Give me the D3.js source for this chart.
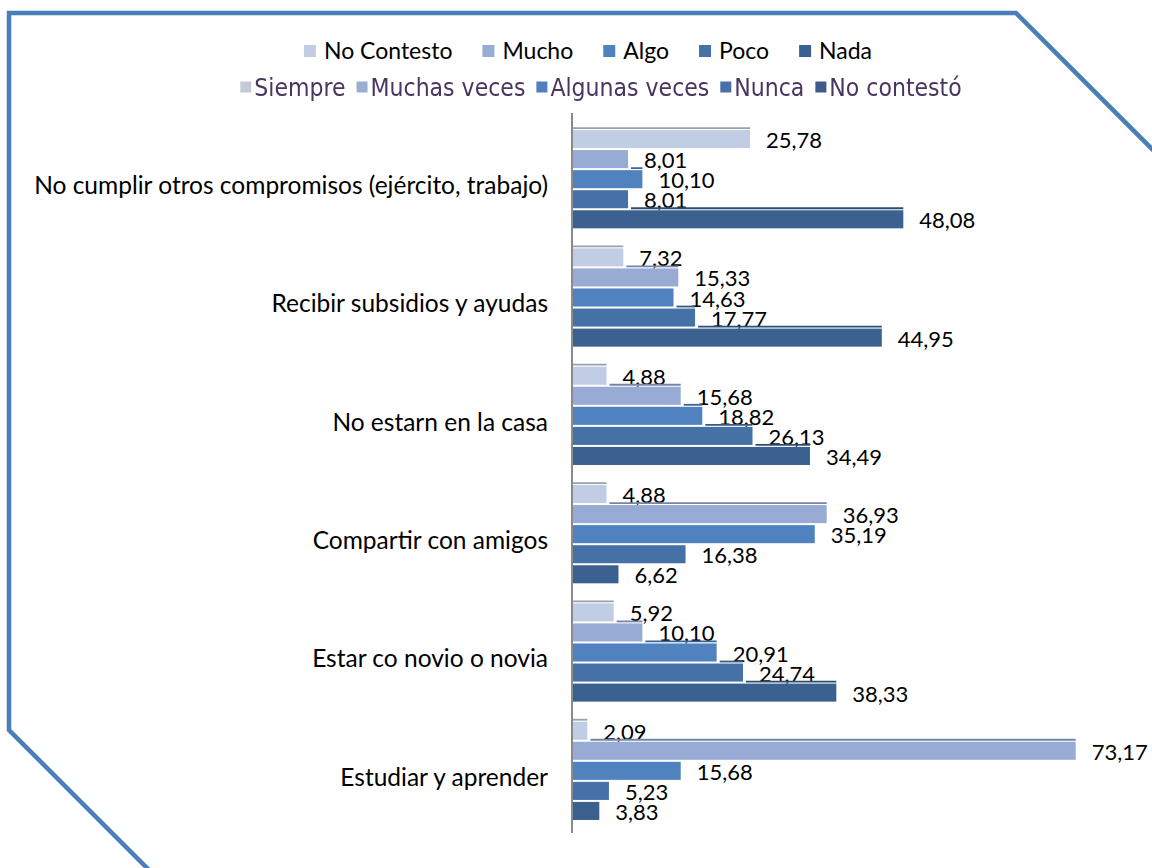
<!DOCTYPE html>
<html>
<head>
<meta charset="utf-8">
<script src="https://d3js.org/d3.v7.min.js"></script>
<style>
  body { margin: 0; background: #ffffff; }
  svg text { font-family: Lato, "Open Sans", sans-serif; fill: #000; }
  .legend2 text { font-family: "Liberation Sans Narrow", "DejaVu Sans Condensed", "Roboto", sans-serif; fill: #4a3560; }
</style>
</head>
<body>
<div class="plot"></div>
<script>
// categories (top to bottom)
let categories = [
  "No cumplir otros compromisos (ejército, trabajo)",
  "Recibir subsidios y ayudas",
  "No estarn en la casa",
  "Compartir con amigos",
  "Estar co novio o novia",
  "Estudiar y aprender"
];

let seriesNames = ["No Contesto", "Mucho", "Algo", "Poco", "Nada"];
let noContesto = [25.78, 7.32, 4.88, 4.88, 5.92, 2.09];
let mucho      = [8.01, 15.33, 15.68, 36.93, 10.10, 73.17];
let algo       = [10.10, 14.63, 18.82, 35.19, 20.91, 15.68];
let poco       = [8.01, 17.77, 26.13, 16.38, 24.74, 5.23];
let nada       = [48.08, 44.95, 34.49, 6.62, 38.33, 3.83];
let seriesColors = ["#c0cde4", "#97abd5", "#4f82be", "#4571a7", "#3b6190"];

// second (left over) legend
let legend2Names = ["Siempre", "Muchas veces", "Algunas veces", "Nunca", "No contestó"];
let legend2Colors = ["#c3c9d6", "#9cadd2", "#4f7fbd", "#4a6fa6", "#3d5b89"];

let width = 1152, height = 868;
let seriesValues = [noContesto, mucho, algo, poco, nada];

let fmt = d3.formatLocale({decimal: ",", thousands: ".", grouping: [3], currency: ["", ""]}).format(".2f");

let svg = d3.select(".plot")
    .append("svg")
    .attr("width", width)
    .attr("height", height);

// frame with the cut corners
let framePts = [[152, 873], [9, 730], [9, 13], [1016, 13], [1162, 159]];
svg.append("path")
    .attr("d", d3.line()(framePts))
    .attr("fill", "none")
    .attr("stroke", "#4a7ebb")
    .attr("stroke-width", 4.5)
    .attr("stroke-linejoin", "miter");

let xScale = d3.scaleLinear()
    .domain([0, 80])
    .range([573, 573 + 80 * 6.87]);

let y0 = d3.scaleBand()
    .domain(categories)
    .range([120, 830]);

let y1 = d3.scaleBand()
    .domain(seriesNames)
    .range([0, y0.bandwidth()])
    .paddingInner(0.1)
    .paddingOuter(0.5);

// category axis
let yAxis = d3.axisLeft(y0).tickSize(0).tickPadding(24);
let gAxis = svg.append("g")
    .attr("class", "y-axis")
    .attr("transform", "translate(572,0)")
    .call(yAxis);
gAxis.select(".domain").remove();
gAxis.selectAll("text")
    .style("font-family", "Lato, sans-serif")
    .style("font-size", "24.5px")
    .attr("dy", "0.6em");

svg.append("line")
    .attr("x1", 572).attr("x2", 572)
    .attr("y1", 113).attr("y2", 833)
    .attr("stroke", "#8a8a8a")
    .attr("stroke-width", 2);

// bars
categories.forEach((cat, i) => {
  seriesNames.forEach((s, j) => {
    let v = seriesValues[j][i];
    let top = y0(cat) + y1(s);
    svg.append("rect")
      .attr("x", xScale(0))
      .attr("y", top)
      .attr("width", xScale(v) - xScale(0))
      .attr("height", y1.bandwidth())
      .attr("fill", seriesColors[j]);

    // the thin edge lines that peek out above each bar
    let startX = null;
    if (j === 0) startX = xScale(0);
    else if (v > seriesValues[j - 1][i]) startX = xScale(seriesValues[j - 1][i]) + 3;
    if (startX !== null) {
      svg.append("line")
        .attr("x1", startX).attr("x2", xScale(v))
        .attr("y1", top - 2).attr("y2", top - 2)
        .attr("stroke", d3.color(seriesColors[j]).darker(0.7))
        .attr("stroke-width", 1.8);
    }

    svg.append("text")
      .attr("x", xScale(v) + 16)
      .attr("y", top + y1.bandwidth() / 2 + 9)
      .style("font-size", "22px")
      .text(fmt(v));
  });
});

// legend rows laid out from measured text widths
function layoutLegend(g, names, colors, fontSize, sq, textGap, itemGap, centerX, cy) {
  let items = g.selectAll("g.item")
    .data(names)
    .enter().append("g")
    .attr("class", "item");
  items.append("rect")
    .attr("width", sq).attr("height", sq)
    .attr("y", cy - sq / 2)
    .attr("fill", (d, k) => colors[k]);
  items.append("text")
    .attr("y", cy + fontSize * 0.36)
    .style("font-size", fontSize + "px")
    .text(d => d);
  let widths = [];
  items.selectAll("text").each(function() { widths.push(this.getComputedTextLength()); });
  let total = d3.sum(widths) + names.length * (sq + textGap) + (names.length - 1) * itemGap;
  let xpos = centerX - total / 2;
  items.each(function(d, k) {
    let it = d3.select(this);
    it.select("rect").attr("x", xpos);
    it.select("text").attr("x", xpos + sq + textGap);
    xpos += sq + textGap + widths[k] + itemGap;
  });
}

layoutLegend(svg.append("g").attr("class", "legend1"),
  seriesNames, seriesColors, 23, 12, 8, 30, 588, 51);

let defs = svg.append("defs");
defs.append("filter").attr("id", "soft")
  .append("feGaussianBlur").attr("stdDeviation", 0.5);

layoutLegend(svg.append("g").attr("class", "legend2").attr("filter", "url(#soft)"),
  legend2Names, legend2Colors, 24.5, 11, 3, 11, 601, 87);
</script>
</body>
</html>
